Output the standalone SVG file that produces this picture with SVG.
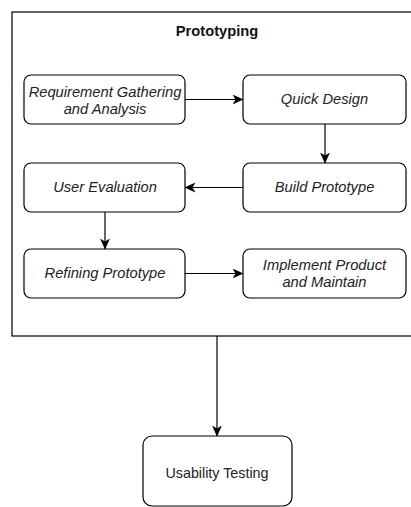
<svg xmlns="http://www.w3.org/2000/svg" width="411" height="507" viewBox="0 0 411 507">
<defs>
<marker id="arr" viewBox="0 0 11 10" refX="10.5" refY="5" markerWidth="11" markerHeight="10" markerUnits="userSpaceOnUse" orient="auto">
<path d="M0,0 L11,5 L0,10 L3,5 Z" fill="#000"/>
</marker>
</defs>
<style>
.box{fill:#fff;stroke:#000;stroke-width:1.2}
.lbl{font-family:"Liberation Sans",Arial,sans-serif;font-size:14.7px;font-style:italic;fill:#222;text-anchor:middle}
.plain{font-family:"Liberation Sans",Arial,sans-serif;font-size:14.3px;fill:#222;text-anchor:middle}
.title{font-family:"Liberation Sans",Arial,sans-serif;font-size:14.7px;font-weight:bold;fill:#111;text-anchor:middle}
.edge{fill:none;stroke:#000;stroke-width:1.2;marker-end:url(#arr)}
</style>
<rect width="411" height="507" fill="#fff"/>
<g id="container">
<rect x="12" y="12" width="410" height="324" fill="#fff" stroke="#000" stroke-width="1.2"/>
<text class="title" x="217" y="36">Prototyping</text>
</g>
<g id="req">
<rect class="box" x="24" y="75" width="161" height="49" rx="7"/>
<text class="lbl" x="105" y="97">Requirement Gathering</text>
<text class="lbl" x="105" y="114">and Analysis</text>
</g>
<g id="quick">
<rect class="box" x="243" y="75" width="163" height="49" rx="7"/>
<text class="lbl" x="324.5" y="104">Quick Design</text>
</g>
<g id="build">
<rect class="box" x="243" y="163" width="163" height="49" rx="7"/>
<text class="lbl" x="324.5" y="192">Build Prototype</text>
</g>
<g id="user">
<rect class="box" x="24" y="163" width="161" height="49" rx="7"/>
<text class="lbl" x="105" y="192">User Evaluation</text>
</g>
<g id="refine">
<rect class="box" x="24" y="249" width="161" height="49" rx="7"/>
<text class="lbl" x="105" y="278">Refining Prototype</text>
</g>
<g id="implement">
<rect class="box" x="243" y="249" width="163" height="49" rx="7"/>
<text class="lbl" x="324.5" y="270">Implement Product</text>
<text class="lbl" x="324.5" y="287">and Maintain</text>
</g>
<g id="usability">
<rect class="box" x="143" y="436" width="149" height="70" rx="9"/>
<text class="plain" x="217" y="478">Usability Testing</text>
</g>
<g id="connectors">
<path class="edge" d="M185,99.5 L243,99.5"/>
<path class="edge" d="M325,124 L325,163"/>
<path class="edge" d="M243,187.5 L185,187.5"/>
<path class="edge" d="M105,212 L105,249"/>
<path class="edge" d="M185,273.5 L243,273.5"/>
<path class="edge" d="M217,336 L217,436"/>
</g>
</svg>
